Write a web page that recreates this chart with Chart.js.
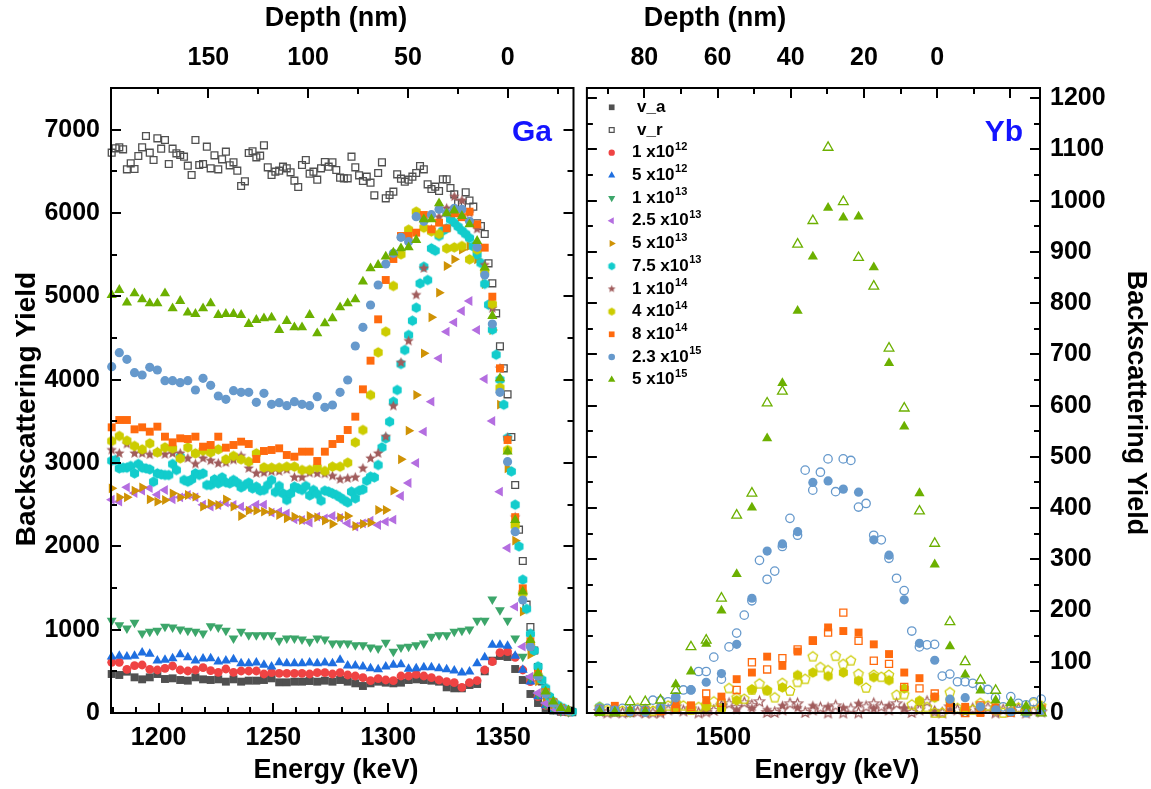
<!DOCTYPE html>
<html>
<head>
<meta charset="utf-8">
<title>RBS spectra Ga / Yb</title>
<script src="https://cdn.jsdelivr.net/npm/chart.js@4.4.1/dist/chart.umd.min.js"></script>
<style>
  html, body { margin: 0; padding: 0; background: #fff; }
  #page { position: relative; width: 1151px; height: 789px; overflow: hidden; }
  #gaChart { position: absolute; left: 0; top: 0; }
  #ybChart { position: absolute; left: 580px; top: 0; }
</style>
</head>
<body>
<div id="page">
  <canvas id="gaChart" width="580" height="789"></canvas>
  <canvas id="ybChart" width="571" height="789"></canvas>
</div>
<script>
const FONT = "'Liberation Sans', Arial, Helvetica, sans-serif";
Chart.defaults.font.family = FONT;
Chart.defaults.font.weight = "bold";
Chart.defaults.color = "#000";

// channel -> energy calibration (keV)
const gaE0 = 1179.55, gaDE = 3.316, gaDEfine = 1.658;
const ybE0 = 1473.15, ybDE = 3.305, ybDEfine = 1.652;

// axis windows
const gaEnergyMin = 1179.25, gaEnergyMax = 1380.7;
const gaDepthMin = -33, gaDepthMax = 198.8;
const ybEnergyMin = 1470.4, ybEnergyMax = 1568.7;
const ybDepthMin = -28.1, ybDepthMax = 95.7;
const gaYieldMax = 7500, ybYieldMax = 1220;

// tick labels
const gaEnergyTicks = [1200, 1250, 1300, 1350];
const gaDepthTicks = [150, 100, 50, 0];
const gaYieldTicks = [0, 1000, 2000, 3000, 4000, 5000, 6000, 7000];
const ybEnergyTicks = [1500, 1550];
const ybDepthTicks = [80, 60, 40, 20, 0];
const ybYieldTicks = [0, 100, 200, 300, 400, 500, 600, 700, 800, 900, 1000, 1100, 1200];

// legend
const seriesKeys = ["va", "vr", "f1e12", "f5e12", "f1e13", "f25e13", "f5e13", "f75e13", "f1e14", "f4e14", "f8e14", "f23e15", "f5e15"];
const legendText = ["v_a", "v_r", "1 x10", "5 x10", "1 x10", "2.5 x10", "5 x10", "7.5 x10", "1 x10", "4 x10", "8 x10", "2.3 x10", "5 x10"];
const legendExp = ["", "", "12", "12", "13", "13", "13", "13", "14", "14", "14", "15", "15"];

// ---- Ga window, one value per channel ----
const gaVa = [468,456,496,428,404,428,468,408,416,396, 388,428,404,396,404,376,404,376,388,388, 396,416,368,368,376,376,384,376,388,376, 396,376,356,324,356,376,364,356,364,396, 404,396,388,376,308,296,296,336,348,500, 628,684,672,528,396,228,120,60,30,15, 10];
const ga1e12 = [608,608,524,568,576,524,516,536,564,516, 504,516,544,508,488,528,488,504,504,504, 468,484,476,476,476,476,468,484,484,468, 484,456,444,424,388,412,396,388,444,444, 464,444,424,396,376,364,308,364,388,516, 616,724,736,668,516,376,196,90,40,20, 10];
const ga5e12 = [676,684,676,684,724,708,628,636,656,704, 668,628,652,656,616,628,644,596,596,604, 576,556,608,596,596,596,604,596,604,596, 636,568,568,556,536,524,556,576,584,528, 536,548,548,536,524,508,484,496,596,668, 816,816,804,684,516,376,200,90,40,20, 10];
const ga1e13 = [1108,1056,1016,1084,956,976,988,1036,1028,1004, 988,976,956,1044,1028,988,896,976,936,936, 936,936,868,896,896,884,856,896,884,836, 836,836,816,816,788,776,844,736,788,796, 816,836,916,936,936,976,988,1004,1108,1108, 1364,1236,1108,896,676,420,220,100,45,20, 10];
const ga25e13 = [2560,2536,2708,2640,2668,2700,2620,2676,2564,2588, 2616,2588,2500,2476,2496,2524,2496,2476,2444,2500, 2500,2404,2416,2396,2324,2316,2284,2356,2336,2364, 2340,2276,2236,2276,2308,2256,2296,2320,2604,2760, 3000,3376,3736,4256,4576,4688,4824,4944,4596,4008, 3504,2656,1980,1276,796,436,240,120,60,30, 15];
const ga5e13 = [2696,2588,2588,2668,2708,2564,2536,2556,2636,2588, 2616,2596,2476,2516,2496,2564,2476,2364,2428,2428, 2416,2416,2376,2336,2356,2316,2364,2348,2308,2268, 2348,2364,2244,2268,2284,2436,2436,2668,3044,3388, 3816,4316,4748,5044,5364,5444,5560,5604,5444,5148, 4596,3700,2936,2068,1216,700,380,190,100,45, 20];
const ga1e14 = [3156,3116,3228,3116,3116,3100,3130,3104,3116,3116, 3056,2988,3056,3028,2996,3004,3036,3084,2936,2876, 2884,2900,2900,2920,2828,2828,2880,2876,2870,2844, 2804,2816,2828,2936,3056,3116,3316,3684,4204,4464, 5016,5336,5804,5950,6056,6196,6150,6000,5808,5376, 4856,4136,3300,2350,1420,800,430,220,110,50, 25];
const ga4e14 = [3264,3324,3268,3204,3164,3236,3128,3188,3176,3056, 3188,3116,3148,3128,3164,3044,3084,3044,3016,3116, 2948,2944,2944,2956,2956,2916,2916,2948,2904,2956, 2956,3004,3248,3396,3816,4328,4576,5124,5504,5800, 6016,5824,5780,5748,5576,5588,5604,5444,5560,5300, 4908,3904,3156,2250,1440,830,450,240,125,55, 25];
const ga8e14 = [3428,3516,3516,3404,3428,3376,3436,3316,3248,3296, 3288,3316,3196,3216,3316,3184,3216,3256,3228,3048, 3144,3156,3176,3096,3076,3136,3136,3024,3136,3228, 3288,3396,3556,3884,4228,4724,5196,5448,5724,5724, 5764,5976,5804,5884,5816,5996,5950,6016,5864,5584, 4996,4136,3276,2350,1496,860,470,250,130,60, 30];
const ga23e15 = [4156,4324,4244,4084,4056,4148,4116,3988,3988,3964, 3988,3876,4016,3932,3804,3764,3868,3848,3848,3728, 3836,3704,3724,3688,3736,3704,3688,3796,3668,3696, 3848,3996,4404,4628,4896,5136,5388,5516,5708,5656, 5956,5900,5980,6044,6000,6056,6044,5900,5588,5256, 4668,3848,3016,2176,1356,796,444,230,120,55, 25];
const ga5e15 = [5016,5076,4924,5036,4964,4916,4916,5036,4856,4944, 4804,4788,4856,4916,4776,4788,4788,4776,4668,4716, 4736,4744,4596,4704,4628,4628,4776,4556,4676,4736, 4868,4916,4964,5176,5336,5376,5476,5524,5576,5588, 5676,5924,5924,6116,5996,6028,5964,5864,5664,5344, 4764,4016,3136,2316,1456,876,476,256,136,60, 30];
// half-width channels
const gaVr = [6724,6776,6788,6764,6524,6596,6528,6684,6788,6924, 6724,6636,6896,6772,6876,6588,6772,6716,6696,6676, 6568,6456,6876,6576,6588,6796,6536,6692,6524,6644, 6736,6572,6608,6508,6324,6380,6720,6740,6668,6688, 6812,6548,6456,6496,6508,6556,6536,6488,6388,6312, 6576,6636,6472,6496,6400,6536,6612,6556,6608,6516, 6424,6416,6416,6676,6548,6452,6384,6436,6364,6212, 6480,6608,6176,6216,6256,6464,6412,6376,6400,6436, 6480,6564,6524,6344,6288,6316,6264,6404,6404,6300, 6224,6116,6104,6248,6150,6076,5876,5844,5748,5396, 5156,4796,4400,4136,3824,3312,2736,2200,1824,1300, 1032,750,552,380,260,170,110,70,45,30, 20,10];
const ga75e13 = [3028,3036,2936,2944,2944,2964,2876,2988,2944,2936, 2924,2776,2876,2864,2856,2856,2988,2916,3076,2796, 2776,2804,2876,2856,2876,2736,2736,2804,2756,2828, 2768,2756,2796,2764,2708,2736,2764,2696,2716,2668, 2676,2736,2796,2652,2724,2636,2556,2636,2716,2696, 2676,2724,2612,2676,2628,2548,2668,2656,2636,2616, 2588,2556,2528,2656,2576,2668,2684,2788,2836,2828, 2976,3188,3296,3496,3736,3876,4188,4356,4536,4708, 4864,5156,5356,5196,5576,5548,5724,5788,5816,5924, 5884,5836,5788,5748,5700,5600,5500,5400,5150,4900, 4600,4300,4000,3700,3300,2900,2500,2000,1600,1250, 950,750,560,400,300,200,140,100,70,50, 30,20];

// ---- Yb window ----
const yb5e15 = [0,2,6,3,6,56,81,135,200,271, 401,536,644,785,891,986,967,969,870,683, 559,429,290,130,75,44,25,20,14,12];
const yb5e15r = [2,0,22,22,25,44,129,142,224,386, 429,605,628,915,961,1104,998,889,833,712, 595,394,331,178,100,64,44,20,2,0];
const yb23e15 = [6,4,2,1,10,32,45,60,77,134, 224,316,330,354,450,453,437,431,338,308, 221,136,103,27,30,12,6,2,0,5];
const yb8e14 = [8,14,4,6,9,17,15,25,32,66, 79,110,92,120,142,167,160,157,134,115, 79,68,32,19,12,0,11,0,5,9];
const yb8e14r = [4,6,3,2,4,8,12,38,20,45, 99,85,107,124,141,157,196,141,102,96, 51,48,38,9,0,15,5,8,3,6];
const yb4e14 = [4,6,2,8,5,10,8,12,9,25, 46,44,50,74,79,72,79,63,70,64, 48,24,30,25,8,12,5,3,6,4];
const yb1e14 = [2,0,0,0,2,6,8,5,10,6, 9,6,14,10,14,12,10,18,8,14, 9,20,4,6,3,5,2,4,6,3];
// half-width channels
const yb23e15r = [9,9,5,9,8,7,6,25,24,22, 30,45,45,81,81,109,66,129,156,191, 219,298,261,277,325,380,347,474,435,470, 496,432,496,493,402,409,347,338,302,263, 239,160,129,133,134,72,76,61,61,58, 50,46,30,12,32,19,16,22,27];
const yb4e14r = [11,5,8,4,3,9,6,4,10,14, 20,14,6,11,16,22,18,48,30,27, 45,57,44,30,58,43,60,66,110,89, 83,111,95,102,76,49,74,70,74,35, 36,16,10,11,0,0,40,9,6,6, 19,14,10,0,14,10,3,19,14];
const yb1e14r = [3,0,2,0,4,2,0,0,0,6, 12,4,8,0,2,5,14,18,11,20, 15,22,1,1,6,18,18,1,6,10, 0,14,0,8,0,12,18,12,6,18, 8,1,6,22,2,0,12,6,3,8, 5,10,0,6,2,8,0,4,2];
// low-fluence spectra: only the first channels rise above the axis
const ybVa = [4,2,0], ybVr = [8,3,1], yb1e12 = [5,2,1], yb5e12 = [6,3,1];
const yb1e13 = [10,4,2], yb25e13 = [8,5,2], yb5e13 = [6,3,1], yb75e13 = [12,5,2];

const styles = {
  va:     { color: "#505050", point: "rect", radius: 5.6 },
  vr:     { color: "#505050", point: "rect", radius: 4.8, open: true },
  f1e12:  { color: "#ef4343", point: "circle", radius: 4.4 },
  f5e12:  { color: "#1f6fe0", point: "triangle", radius: 5.7 },
  f1e13:  { color: "#3ca66a", point: "triangle", radius: 5.7, rotation: 180 },
  f25e13: { color: "#b46ee0", point: "triangle", radius: 5.7, rotation: -90 },
  f5e13:  { color: "#cf9205", point: "triangle", radius: 5.7, rotation: 90 },
  f75e13: { color: "#12cccc", point: "hexagon", size: 10.5 },
  f1e14:  { color: "#a05c5c", point: "star", size: 11 },
  f4e14:  { color: "#cccc00", point: "hexagon", size: 10.5 },
  f8e14:  { color: "#ff6a0e", point: "rect", radius: 5.6 },
  f23e15: { color: "#6699cc", point: "circle", radius: 4.6 },
  f5e15:  { color: "#6cb000", point: "triangle", radius: 5.9 }
};

function markerCanvas(shape, size, color, open) {
  const c = document.createElement("canvas");
  c.width = c.height = Math.ceil(size) + 4;
  const g = c.getContext("2d");
  const cx = c.width / 2, cy = c.height / 2, r = size / 2;
  g.beginPath();
  if (shape === "star") {
    for (let i = 0; i < 10; i++) {
      const rr = i % 2 ? r * 0.45 : r;
      const a = -Math.PI / 2 + (i * Math.PI) / 5;
      g.lineTo(cx + rr * Math.cos(a), cy + rr * Math.sin(a));
    }
  } else {
    const n = shape === "hexagon" ? 6 : 5;
    for (let i = 0; i < n; i++) {
      const a = -Math.PI / 2 + (i * 2 * Math.PI) / n;
      g.lineTo(cx + r * Math.cos(a), cy + r * Math.sin(a));
    }
  }
  g.closePath();
  if (open) {
    g.strokeStyle = color;
    g.lineWidth = 1.2;
    g.stroke();
  } else {
    g.fillStyle = color;
    g.fill();
  }
  return c;
}

function channels(start, step, values) {
  return values.map((v, i) => ({ x: start + step * i, y: v }));
}

function scatterSet(key, points, opts = {}) {
  const st = styles[key];
  const open = opts.open !== undefined ? opts.open : !!st.open;
  const ds = { label: key, data: points, showLine: false, clip: false, order: opts.order || 0 };
  let shape = opts.shape || st.point;
  if (shape === "star" || shape === "hexagon" || shape === "pentagon") {
    const size = opts.size || st.size || 10;
    ds.pointStyle = markerCanvas(shape, size, st.color, open);
    ds.pointRadius = size / 2;
  } else {
    ds.pointStyle = shape;
    ds.pointRadius = opts.radius || st.radius;
    ds.pointRotation = st.rotation || 0;
    ds.pointBackgroundColor = open ? "rgba(0,0,0,0)" : st.color;
    ds.pointBorderColor = st.color;
    ds.pointBorderWidth = open ? 1.3 : 0;
  }
  return ds;
}

function fixedTicks(list) {
  return (scale) => { scale.ticks = list.map((v) => ({ value: v })); };
}

const tickFont = { size: 25, weight: "bold", family: FONT };

function axis(position, min, max, list, fit, padding, extra = {}) {
  return Object.assign({
    type: "linear", position, min, max, bounds: "data",
    afterBuildTicks: fixedTicks(list),
    afterFit: fit,
    grid: { display: false, drawTicks: false },
    border: { display: false },
    ticks: { font: tickFont, color: "#000", padding, maxRotation: 0, autoSkip: false, callback: (v) => String(v) }
  }, extra);
}

// inward tick marks on all four sides plus the frame
const frameTicks = {
  id: "frameTicks",
  afterDatasetsDraw(chart, args, opts) {
    const { ctx, chartArea: a } = chart;
    ctx.save();
    ctx.strokeStyle = "#000";
    ctx.lineWidth = 2;
    ctx.strokeRect(a.left, a.top, a.right - a.left, a.bottom - a.top);
    opts.marks.forEach((m) => {
      const sc = chart.scales[m.scale];
      for (let k = 0; m.from + k * m.step <= m.to + 1e-6; k++) {
        const v = m.from + k * m.step;
        const len = Math.abs(v % m.major) < 1e-6 ? 10 : 6;
        const p = Math.round(sc.getPixelForValue(v));
        m.sides.forEach((side) => {
          ctx.beginPath();
          if (side === "bottom") { ctx.moveTo(p, a.bottom); ctx.lineTo(p, a.bottom - len); }
          if (side === "top") { ctx.moveTo(p, a.top); ctx.lineTo(p, a.top + len); }
          if (side === "left") { ctx.moveTo(a.left, p); ctx.lineTo(a.left + len, p); }
          if (side === "right") { ctx.moveTo(a.right, p); ctx.lineTo(a.right - len, p); }
          ctx.stroke();
        });
      }
    });
    ctx.restore();
  }
};

const panelText = {
  id: "panelText",
  afterDraw(chart, args, opts) {
    const ctx = chart.ctx;
    opts.items.forEach((t) => {
      ctx.save();
      ctx.font = `bold ${t.size}px ${FONT}`;
      ctx.fillStyle = t.color || "#000";
      ctx.textAlign = "center";
      ctx.textBaseline = "middle";
      ctx.translate(t.x, t.y);
      ctx.rotate(((t.rot || 0) * Math.PI) / 180);
      ctx.fillText(t.text, 0, 0);
      ctx.restore();
    });
  }
};

const legendBox = {
  id: "legendBox",
  afterDatasetsDraw(chart, args, opts) {
    if (!opts.show) return;
    const ctx = chart.ctx;
    ctx.save();
    seriesKeys.forEach((key, i) => {
      const st = styles[key];
      const y = opts.top + i * opts.rowGap;
      let ps = st.point;
      if (ps === "star" || ps === "hexagon") ps = markerCanvas(ps, st.size * 0.75, st.color, false);
      ctx.fillStyle = st.open ? "#fff" : st.color;
      ctx.strokeStyle = st.color;
      ctx.lineWidth = 1.2;
      Chart.helpers.drawPoint(ctx, {
        pointStyle: ps,
        radius: (st.radius || 5) * 0.72,
        rotation: st.rotation || 0,
        borderWidth: st.open ? 1.2 : 0
      }, opts.markerX, y);
      ctx.fillStyle = "#000";
      ctx.textAlign = "left";
      ctx.textBaseline = "middle";
      ctx.font = `bold 17px ${FONT}`;
      const tx = opts.textX + (legendExp[i] ? 0 : 5);
      ctx.fillText(legendText[i], tx, y);
      if (legendExp[i]) {
        const w = ctx.measureText(legendText[i]).width;
        ctx.font = `bold 11px ${FONT}`;
        ctx.fillText(legendExp[i], tx + w + 0.5, y - 6);
      }
    });
    ctx.restore();
  }
};

const baseOptions = {
  responsive: false,
  animation: false,
  devicePixelRatio: 1,
  events: [],
  plugins: { legend: { display: false }, tooltip: { enabled: false } }
};

// ---------- Ga panel ----------
const n = seriesKeys.length;
const gaCoarse = { va: gaVa, f1e12: ga1e12, f5e12: ga5e12, f1e13: ga1e13, f25e13: ga25e13, f5e13: ga5e13,
  f1e14: ga1e14, f4e14: ga4e14, f8e14: ga8e14, f23e15: ga23e15, f5e15: ga5e15 };
const gaFine = { vr: gaVr, f75e13: ga75e13 };

const gaDatasets = seriesKeys.map((key, i) => {
  const pts = gaFine[key] ? channels(gaE0, gaDEfine, gaFine[key]) : channels(gaE0, gaDE, gaCoarse[key]);
  return scatterSet(key, pts, { order: n - i });
});

new Chart(document.getElementById("gaChart"), {
  type: "scatter",
  data: { datasets: gaDatasets },
  options: Object.assign({}, baseOptions, {
    layout: { padding: { left: 0, right: 3, top: 0, bottom: 0 } },
    scales: {
      x: axis("bottom", gaEnergyMin, gaEnergyMax, gaEnergyTicks, (s) => { s.height = 76; }, 10),
      depth: axis("top", gaDepthMin, gaDepthMax, gaDepthTicks, (s) => { s.height = 88; }, 15, { reverse: true }),
      y: axis("left", 0, gaYieldMax, gaYieldTicks, (s) => { s.width = 111; }, 11)
    },
    plugins: Object.assign({}, baseOptions.plugins, {
      frameTicks: { marks: [
        { scale: "x", from: 1180, to: 1380, step: 10, major: 50, sides: ["bottom"] },
        { scale: "depth", from: -25, to: 175, step: 25, major: 50, sides: ["top"] },
        { scale: "y", from: 0, to: 7000, step: 500, major: 1000, sides: ["left", "right"] }
      ] },
      panelText: { items: [
        { text: "Depth (nm)", x: 336, y: 19, size: 27 },
        { text: "Energy (keV)", x: 336, y: 771, size: 27 },
        { text: "Backscattering Yield", x: 27, y: 409, size: 28, rot: -90 },
        { text: "Ga", x: 532, y: 133, size: 30, color: "#1414ff" }
      ] },
      legendBox: { show: false }
    })
  }),
  plugins: [frameTicks, panelText, legendBox]
});

// ---------- Yb panel ----------
const ybSets = [];
const ybLow = { va: ybVa, vr: ybVr, f1e12: yb1e12, f5e12: yb5e12, f1e13: yb1e13, f25e13: yb25e13, f5e13: yb5e13, f75e13: yb75e13 };
seriesKeys.forEach((key, i) => {
  if (ybLow[key]) ybSets.push(scatterSet(key, channels(ybE0, ybDE, ybLow[key]), { order: n - i + 20 }));
});
ybSets.push(scatterSet("f1e14", channels(ybE0, ybDEfine, yb1e14r), { open: true, order: 12 }));
ybSets.push(scatterSet("f1e14", channels(ybE0, ybDE, yb1e14), { order: 11 }));
ybSets.push(scatterSet("f4e14", channels(ybE0, ybDEfine, yb4e14r), { open: true, shape: "pentagon", size: 10, order: 10 }));
ybSets.push(scatterSet("f4e14", channels(ybE0, ybDE, yb4e14), { order: 9 }));
ybSets.push(scatterSet("f8e14", channels(ybE0, ybDE, yb8e14r), { open: true, radius: 5, order: 8 }));
ybSets.push(scatterSet("f8e14", channels(ybE0, ybDE, yb8e14), { order: 7 }));
ybSets.push(scatterSet("f23e15", channels(ybE0, ybDEfine, yb23e15r), { open: true, radius: 4.2, order: 6 }));
ybSets.push(scatterSet("f23e15", channels(ybE0, ybDE, yb23e15), { order: 5 }));
ybSets.push(scatterSet("f5e15", channels(ybE0, ybDE, yb5e15r), { open: true, radius: 5.6, order: 4 }));
ybSets.push(scatterSet("f5e15", channels(ybE0, ybDE, yb5e15), { order: 3 }));

new Chart(document.getElementById("ybChart"), {
  type: "scatter",
  data: { datasets: ybSets },
  options: Object.assign({}, baseOptions, {
    layout: { padding: { left: 2, right: 0, top: 0, bottom: 0 } },
    scales: {
      x: axis("bottom", ybEnergyMin, ybEnergyMax, ybEnergyTicks, (s) => { s.height = 76; }, 10),
      depth: axis("top", ybDepthMin, ybDepthMax, ybDepthTicks, (s) => { s.height = 88; }, 15, { reverse: true }),
      y: axis("right", 0, ybYieldMax, ybYieldTicks, (s) => { s.width = 111; }, 10)
    },
    plugins: Object.assign({}, baseOptions.plugins, {
      frameTicks: { marks: [
        { scale: "x", from: 1475, to: 1550, step: 25, major: 50, sides: ["bottom"] },
        { scale: "depth", from: -20, to: 90, step: 10, major: 20, sides: ["top"] },
        { scale: "y", from: 0, to: 1200, step: 50, major: 100, sides: ["left", "right"] }
      ] },
      panelText: { items: [
        { text: "Depth (nm)", x: 135, y: 19, size: 27 },
        { text: "Energy (keV)", x: 257, y: 771, size: 27 },
        { text: "Backscattering Yield", x: 555, y: 403, size: 27, rot: 90 },
        { text: "Yb", x: 424, y: 133, size: 30, color: "#1414ff" }
      ] },
      legendBox: { show: true, top: 107.3, rowGap: 22.7, markerX: 31.7, textX: 52 }
    })
  }),
  plugins: [frameTicks, panelText, legendBox]
});
</script>
</body>
</html>
